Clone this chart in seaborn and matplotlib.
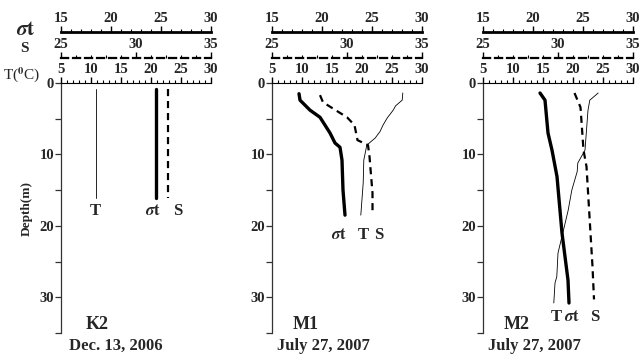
"""
Vertical profiles of temperature (T), salinity (S) and density (sigma-t)
at stations K2, M1 and M2.
"""

import matplotlib
matplotlib.use("Agg")
import matplotlib.pyplot as plt
from matplotlib.ticker import MultipleLocator
import seaborn as sns

# ─────────────────────────────────────────────
# DATA
# ─────────────────────────────────────────────
stations = ["K2", "M1", "M2"]
dates = ["Dec. 13, 2006", "July 27, 2007", "July 27, 2007"]

# K2 - well mixed
k2_depth = [0.8, 16.1]
k2_t = [10.8, 10.8]
k2_s = [32.1, 32.1]
k2_sigma = [24.5, 24.5]

# M1
m1_t_depth = [1.4, 2.4, 3.2, 3.8, 4.9, 5.9, 6.8, 7.7, 8.7, 10.8, 14.0, 18.5]
m1_t = [26.8, 26.7, 25.6, 25.2, 24.2, 23.5, 23.0, 22.2, 20.8, 20.3, 20.2, 19.8]
m1_s_depth = [1.7, 2.7, 4.8, 5.9, 8.0, 8.7, 10.3, 15.4, 18.2]
m1_s = [28.2, 28.4, 30.0, 30.5, 30.7, 31.4, 31.5, 31.7, 31.7]
m1_sigma_depth = [1.5, 2.4, 3.8, 4.8, 7.0, 8.4, 9.0, 10.8, 15.0, 18.5]
m1_sigma = [17.7, 17.8, 18.8, 19.8, 20.8, 21.3, 21.8, 22.0, 22.1, 22.3]

# M2
m2_t_depth = [1.4, 2.4, 3.8, 9.4, 11.2, 12.4, 15.0, 17.8, 21.0, 23.8, 27.1, 28.0, 30.8]
m2_t = [24.2, 22.8, 22.5, 22.0, 20.8, 20.7, 19.8, 19.2, 18.3, 17.5, 17.3, 17.0, 16.8]
m2_s_depth = [1.4, 2.4, 3.4, 9.4, 11.7, 18.7, 25.7, 30.3]
m2_s = [31.1, 31.3, 31.5, 31.7, 31.9, 32.1, 32.3, 32.4]
m2_sigma_depth = [1.4, 2.4, 7.0, 9.4, 13.1, 21.0, 24.3, 27.6, 30.8]
m2_sigma = [20.7, 21.2, 21.5, 21.9, 22.4, 22.9, 23.2, 23.5, 23.6]

SIG = r"$\sigma\mathrm{t}$"

# curve labels: (text, T-axis x position, depth)
curve_labels = [
    [("T", 10.8, 17.9), (SIG, 20.3, 17.9), ("S", 24.4, 17.9)],
    [(SIG, 16.2, 21.3), ("T", 20.2, 21.3), ("S", 22.8, 21.3)],
    [("T", 17.2, 32.7), (SIG, 19.9, 32.7), ("S", 23.7, 32.7)],
]

profiles = [
    (k2_depth, k2_t, k2_depth, k2_s, k2_depth, k2_sigma),
    (m1_t_depth, m1_t, m1_s_depth, m1_s, m1_sigma_depth, m1_sigma),
    (m2_t_depth, m2_t, m2_s_depth, m2_s, m2_sigma_depth, m2_sigma),
]

# ─────────────────────────────────────────────
# STYLE
# ─────────────────────────────────────────────
sns.set_theme(style="white")
plt.rcParams["font.family"] = ["Liberation Serif", "DejaVu Serif"]
plt.rcParams["font.weight"] = "bold"
plt.rcParams["mathtext.fontset"] = "stix"

fig = plt.figure(figsize=(6.43, 3.56), dpi=100)

lefts = [61 / 643, 272 / 643, 483 / 643]
bottom = 23 / 356
width = 150 / 643
height = 250 / 356

DASH = (0, (3.2, 2.2))


def style_top_axis(a, lo, hi, lw, ls="-", offset=0):
    a.set_xlim(lo, hi)
    a.xaxis.set_major_locator(MultipleLocator(5))
    a.xaxis.set_minor_locator(MultipleLocator(1))
    a.tick_params(axis="x", which="major", direction="out", length=4, width=1,
                  labelsize=10.5, pad=1, color="black", top=True, bottom=False,
                  labeltop=True, labelbottom=False)
    a.tick_params(axis="x", which="minor", direction="out", length=2.2, width=0.8,
                  color="black", top=True, bottom=False)
    for lab in a.get_xticklabels():
        lab.set_fontweight("bold")
    sp = a.spines["top"]
    sp.set_visible(True)
    sp.set_color("black")
    sp.set_linewidth(lw)
    sp.set_linestyle(ls)
    if offset:
        sp.set_position(("outward", offset))


for i, (left, prof) in enumerate(zip(lefts, profiles)):
    t_d, t_v, s_d, s_v, g_d, g_v = prof
    ax = fig.add_axes([left, bottom, width, height])
    ax_s = ax.twiny()
    ax_g = ax.twiny()

    # lines
    sns.lineplot(x=t_v, y=t_d, sort=False, estimator=None, color="black",
                 linewidth=0.6, legend=False, ax=ax)
    sns.lineplot(x=s_v, y=s_d, sort=False, estimator=None, color="black",
                 linewidth=1.6, linestyle=DASH, legend=False, ax=ax_s)
    sns.lineplot(x=g_v, y=g_d, sort=False, estimator=None, color="black",
                 linewidth=2.4, legend=False, ax=ax_g)

    for a in (ax, ax_s, ax_g):
        for side in ("left", "right", "bottom", "top"):
            a.spines[side].set_visible(False)
        a.set_xlabel("")
        a.set_ylabel("")
        a.grid(False)

    style_top_axis(ax, 5, 30, 0.8)
    style_top_axis(ax_s, 25, 35, 1.6, ls=DASH, offset=18)
    style_top_axis(ax_g, 15, 30, 2.0, offset=37)
    ax.xaxis.tick_top()

    # depth axis
    ax.set_ylim(35, 0)
    ax.spines["left"].set_visible(True)
    ax.spines["left"].set_color("#333333")
    ax.spines["left"].set_linewidth(0.9)
    ax.yaxis.set_major_locator(MultipleLocator(10))
    ax.yaxis.set_minor_locator(MultipleLocator(5))
    ax.tick_params(axis="y", which="both", direction="out", length=4, width=0.9,
                   color="#333333", left=True, right=False, labelsize=10.5, pad=1)
    for lab in ax.get_yticklabels():
        lab.set_fontweight("bold")
    ax.patch.set_visible(False)

    # curve labels
    for txt, xv, dv in curve_labels[i]:
        ax.text(xv, dv, txt, ha="center", va="center", fontsize=12,
                fontweight="bold")

    # station name and date
    ax.text(0.24 if i == 0 else 0.227, 0.035, stations[i], transform=ax.transAxes,
            ha="center", va="center", fontsize=13, fontweight="bold")
    ax.text(0.367 if i == 0 else 0.343, -0.05, dates[i], transform=ax.transAxes,
            ha="center", va="center", fontsize=12, fontweight="bold")

# axis captions on the left
fig.text(16 / 643, 1 - 30 / 356, SIG, ha="left", va="center",
         fontsize=15, fontweight="bold")
fig.text(20 / 643, 1 - 48 / 356, "S", ha="left", va="center",
         fontsize=11, fontweight="bold")
fig.text(3 / 643, 1 - 75 / 356, r"T($^{\mathrm{0}}$C)", ha="left", va="center",
         fontsize=11, fontweight="normal")
fig.text(27 / 643, 1 - 208 / 356, "Depth(m)", ha="center", va="center",
         rotation=90, fontsize=9.5, fontweight="bold")

fig.savefig("out.png", dpi=100)
plt.close(fig)
